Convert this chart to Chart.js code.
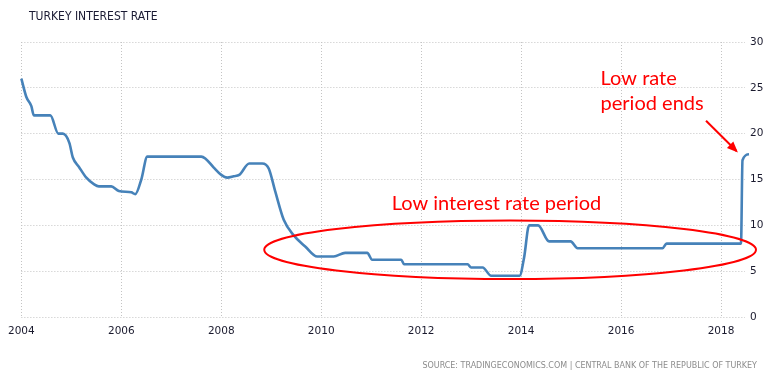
<!DOCTYPE html>
<html>
<head>
<meta charset="utf-8">
<script src="https://cdn.jsdelivr.net/npm/chart.js@4.4.1/dist/chart.umd.min.js"></script>
<style>
  html, body { margin: 0; padding: 0; background: #ffffff; }
  #wrap { width: 773px; height: 379px; position: relative; }
</style>
</head>
<body>
<div id="wrap"><canvas id="c" width="773" height="379"></canvas></div>
<script>
// ---- data ----
const chartTitle = 'TURKEY INTEREST RATE';
const sourceText = 'SOURCE: TRADINGECONOMICS.COM | CENTRAL BANK OF THE REPUBLIC OF TURKEY';
const seriesName = 'Interest rate';
const years = [
  2004.00, 2004.10, 2004.20, 2004.25, 2004.58, 2004.74, 2004.83, 2004.96, 2005.03, 2005.15,
  2005.30, 2005.45, 2005.55, 2005.80, 2005.95, 2006.20, 2006.28, 2006.40, 2006.52, 2007.60,
  2007.68, 2007.85, 2008.00, 2008.12, 2008.25, 2008.36, 2008.56, 2008.82, 2008.95, 2009.08,
  2009.25, 2009.45, 2009.68, 2009.92, 2010.25, 2010.48, 2010.92, 2011.02, 2011.60, 2011.66,
  2012.93, 2013.00, 2013.23, 2013.40, 2013.97, 2014.06, 2014.16, 2014.34, 2014.56, 2014.99,
  2015.13, 2016.83, 2016.91, 2018.40, 2018.43, 2018.56
];
const rates = [
  26.0, 24.0, 23.0, 22.0, 22.0, 20.0, 20.0, 19.0, 17.4, 16.4,
  15.2, 14.5, 14.25, 14.25, 13.75, 13.6, 13.4, 15.0, 17.5, 17.5,
  17.3, 16.3, 15.5, 15.2, 15.35, 15.5, 16.75, 16.75, 16.2, 13.7,
  10.6, 8.9, 7.7, 6.6, 6.6, 7.0, 7.0, 6.25, 6.25, 5.75,
  5.75, 5.4, 5.4, 4.5, 4.5, 6.5, 10.0, 10.0, 8.25, 8.25,
  7.5, 7.5, 8.0, 8.0, 17.1, 17.75
];
const xTickYears = [2004, 2006, 2008, 2010, 2012, 2014, 2016, 2018];
const yTicks = [0, 5, 10, 15, 20, 25, 30];
const note1 = 'Low interest rate period';
const note2 = ['Low rate', 'period ends'];

const points = years.map((x, i) => ({ x: x, y: rates[i] }));

const annot = {
  id: 'annot',
  afterDraw(chart) {
    const ctx = chart.ctx;
    const xs = chart.scales.x, ys = chart.scales.y;
    const px = v => xs.getPixelForValue(v);
    const py = v => ys.getPixelForValue(v);
    ctx.save();
    // title
    ctx.fillStyle = '#1a1a33';
    ctx.font = '12px "DejaVu Sans Condensed", "Liberation Sans", sans-serif';
    ctx.textBaseline = 'alphabetic';
    ctx.textAlign = 'left';
    ctx.fillText(chartTitle, 29, 19.5);
    // source
    ctx.fillStyle = '#8c8c8c';
    ctx.font = '8.9px "DejaVu Sans Condensed", "Liberation Sans", sans-serif';
    ctx.textAlign = 'right';
    ctx.fillText(sourceText, 757, 368);
    // ellipse
    const cx = px(2013.78), cy = py(7.34);
    const rx = px(2013.78 + 4.92) - cx, ry = py(7.34 - 3.2) - cy;
    ctx.strokeStyle = '#ff0000';
    ctx.lineWidth = 2;
    ctx.beginPath();
    ctx.ellipse(cx, cy, rx, ry, 0, 0, Math.PI * 2);
    ctx.stroke();
    // texts
    ctx.fillStyle = '#ff0000';
    ctx.textAlign = 'left';
    ctx.font = '20px Lato, "Open Sans", sans-serif';
    ctx.fillText(note1, px(2011.41), py(11.7));
    ctx.fillText(note2[0], px(2015.59), py(25.3));
    ctx.fillText(note2[1], px(2015.59), py(22.55));
    // arrow
    const x1 = px(2017.7), y1 = py(21.4), x2 = px(2018.31), y2 = py(18.1);
    ctx.lineWidth = 2;
    ctx.beginPath();
    ctx.moveTo(x1, y1);
    ctx.lineTo(x2, y2);
    ctx.stroke();
    const ang = Math.atan2(y2 - y1, x2 - x1);
    const hl = 9, hw = 4.5;
    ctx.beginPath();
    ctx.moveTo(x2 + 2 * Math.cos(ang), y2 + 2 * Math.sin(ang));
    ctx.lineTo(x2 - hl * Math.cos(ang) + hw * Math.sin(ang), y2 - hl * Math.sin(ang) - hw * Math.cos(ang));
    ctx.lineTo(x2 - hl * Math.cos(ang) - hw * Math.sin(ang), y2 - hl * Math.sin(ang) + hw * Math.cos(ang));
    ctx.closePath();
    ctx.fill();
    ctx.restore();
  }
};

new Chart(document.getElementById('c'), {
  type: 'line',
  data: {
    datasets: [{
      label: seriesName,
      data: points,
      borderColor: '#4682b9',
      borderWidth: 2.6,
      pointRadius: 0,
      fill: false,
      cubicInterpolationMode: 'monotone',
      clip: false
    }]
  },
  options: {
    responsive: false,
    animation: false,
    devicePixelRatio: 1,
    layout: { padding: { left: 21, top: 42, right: 0, bottom: 0 } },
    plugins: {
      legend: { display: false },
      tooltip: { enabled: false },
      title: { display: false }
    },
    scales: {
      x: {
        type: 'linear',
        min: 2004,
        max: 2018.48,
        afterFit(s) { s.height = 62; },
        afterBuildTicks(s) { s.ticks = xTickYears.map(v => ({ value: v })); },
        grid: { color: '#c4c4c4', drawTicks: false, lineWidth: 1 },
        border: { display: false, dash: [1, 2] },
        ticks: {
          padding: 8,
          color: '#1a1a2e',
          font: { family: 'DejaVu Sans', size: 10.5 },
          maxRotation: 0,
          autoSkip: false,
          callback: v => String(v)
        }
      },
      y: {
        position: 'right',
        min: 0,
        max: 30,
        afterFit(s) { s.width = 28; },
        afterBuildTicks(s) { s.ticks = yTicks.map(v => ({ value: v })); },
        grid: { color: '#c4c4c4', drawTicks: false, lineWidth: 1 },
        border: { display: false, dash: [1, 2] },
        ticks: {
          padding: 5,
          color: '#1a1a2e',
          font: { family: 'DejaVu Sans', size: 10.5 },
          callback: v => String(v)
        }
      }
    }
  },
  plugins: [annot]
});
</script>
</body>
</html>
